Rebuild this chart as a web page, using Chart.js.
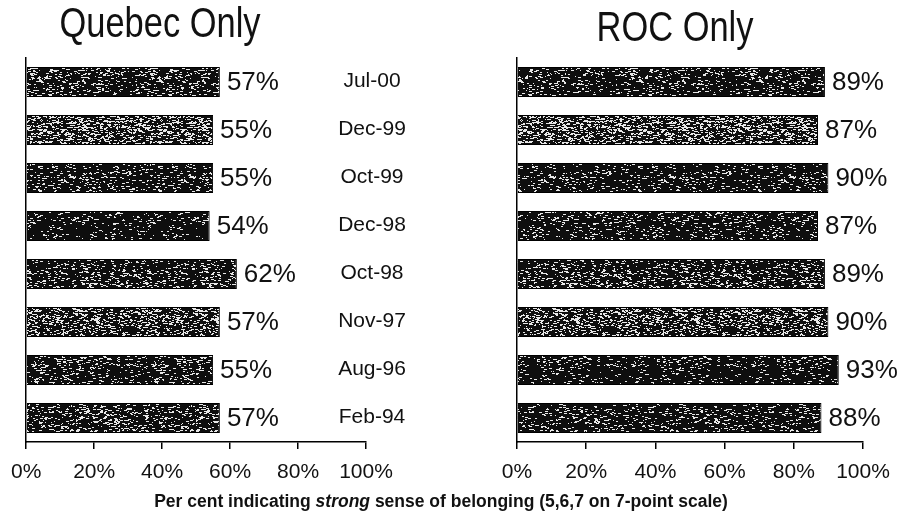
<!DOCTYPE html>
<html>
<head>
<meta charset="utf-8">
<script src="https://cdn.jsdelivr.net/npm/chart.js@4.4.0/dist/chart.umd.min.js"></script>
<style>
    html, body { margin: 0; padding: 0; background: #fff; }
    #wrap { position: relative; width: 903px; height: 516px; }
    #wrap canvas { position: absolute; left: 0; top: 0; }
</style>
</head>
<body>
<div id="wrap">
    <canvas id="quebecChart" width="903" height="516"></canvas>
    <canvas id="rocChart" width="903" height="516"></canvas>
</div>
<script>
const surveyDates = ['Jul-00', 'Dec-99', 'Oct-99', 'Dec-98', 'Oct-98', 'Nov-97', 'Aug-96', 'Feb-94'];
const quebecValues = [57, 55, 55, 54, 62, 57, 55, 57];
const rocValues = [89, 87, 90, 87, 89, 90, 93, 88];
const tickValues = [0, 20, 40, 60, 80, 100];

const FONT = '"Liberation Sans", Arial, sans-serif';

// scanned-looking speckle fill (fixed seed so it is the same every time)
const makeSpeckle = (density, seed) => {
    const c = document.createElement('canvas');
    c.width = 120;
    c.height = 32;
    const g = c.getContext('2d');
    g.fillStyle = '#0e0e0e';
    g.fillRect(0, 0, c.width, c.height);
    let s = seed;
    const next = () => {
        s = (s * 16807) % 2147483647;
        return s / 2147483647;
    };
    g.fillStyle = '#e8e8e8';
    const n = c.width * c.height * density / 2;
    for (let i = 0; i < n; i++) {
        const x = Math.floor(next() * c.width),
            y = Math.floor(next() * c.height),
            w = 1 + Math.floor(next() * 3);
        g.fillRect(x, y, w, 1);
    }
    return g.createPattern(c, 'repeat');
};

const quebecShades = [0.2, 0.4, 0.16, 0.1, 0.2, 0.3, 0.18, 0.24];
const rocShades = [0.16, 0.4, 0.13, 0.14, 0.22, 0.3, 0.12, 0.16];

const valueLabels = {
    id: 'valueLabels',
    afterDatasetsDraw(chart) {
        const {ctx} = chart;
        const meta = chart.getDatasetMeta(0);
        ctx.save();
        ctx.font = '26px ' + FONT;
        ctx.fillStyle = '#111';
        ctx.textBaseline = 'middle';
        ctx.textAlign = 'left';
        meta.data.forEach((bar, i) => {
            ctx.fillText(chart.data.datasets[0].data[i] + '%', bar.x + 7, bar.y + 1);
        });
        ctx.restore();
    }
};

// condensed heading, like the narrow face of the original
const drawTitle = (ctx, text, cx, baseline) => {
    ctx.save();
    ctx.translate(cx, baseline);
    ctx.scale(0.82, 1);
    ctx.font = '42px ' + FONT;
    ctx.textAlign = 'center';
    ctx.textBaseline = 'alphabetic';
    ctx.fillText(text, 0, 0);
    ctx.restore();
};

const drawCaption = (ctx, parts, cx, baseline) => {
    const widths = parts.map(p => {
        ctx.font = p.font;
        return ctx.measureText(p.text).width;
    });
    let x = cx - widths.reduce((a, b) => a + b, 0) / 2;
    parts.forEach((p, i) => {
        ctx.font = p.font;
        ctx.fillText(p.text, x, baseline);
        x += widths[i];
    });
};

const quebecText = {
    id: 'quebecText',
    afterDraw(chart) {
        const {ctx, scales} = chart;
        ctx.save();
        ctx.fillStyle = '#111';
        drawTitle(ctx, 'Quebec Only', 160, 37);

        ctx.font = '21px ' + FONT;
        ctx.textAlign = 'center';
        ctx.textBaseline = 'middle';
        const lx = scales.x.getPixelForValue(100) + 6;
        surveyDates.forEach((d, i) => {
            ctx.fillText(d, lx, scales.y.getPixelForValue(i) - 1);
        });

        ctx.textAlign = 'left';
        ctx.textBaseline = 'alphabetic';
        drawCaption(ctx, [
            {text: 'Per cent indicating ', font: 'bold 17.5px ' + FONT},
            {text: 'strong', font: 'italic bold 17.5px ' + FONT},
            {text: ' sense of belonging (5,6,7 on 7-point scale)', font: 'bold 17.5px ' + FONT}
        ], 441, 507);
        ctx.restore();
    }
};

const rocText = {
    id: 'rocText',
    afterDraw(chart) {
        const {ctx} = chart;
        ctx.save();
        ctx.fillStyle = '#111';
        drawTitle(ctx, 'ROC Only', 675, 41);
        ctx.restore();
    }
};

const makeConfig = (values, shades, padding, plugin) => ({
    type: 'bar',
    data: {
        labels: surveyDates,
        datasets: [{
            data: values,
            backgroundColor: shades.map((d, i) => makeSpeckle(d, 1234 + i * 977)),
            borderColor: '#000',
            borderWidth: 1,
            categoryPercentage: 1,
            barPercentage: 0.625
        }]
    },
    options: {
        indexAxis: 'y',
        responsive: false,
        animation: false,
        layout: {padding: padding},
        plugins: {
            legend: {display: false},
            tooltip: {enabled: false},
            title: {display: false}
        },
        scales: {
            x: {
                min: 0,
                max: 100,
                afterBuildTicks: scale => {
                    scale.ticks = tickValues.map(v => ({value: v}));
                },
                afterFit: scale => {
                    scale.height = 74;
                },
                grid: {
                    display: true,
                    drawOnChartArea: false,
                    drawTicks: true,
                    tickLength: 7,
                    color: '#000',
                    lineWidth: 1.5
                },
                border: {display: true, color: '#000', width: 1.5},
                ticks: {
                    color: '#111',
                    padding: 11,
                    maxRotation: 0,
                    font: {family: FONT, size: 21},
                    callback: v => v + '%'
                }
            },
            y: {
                grid: {display: false},
                border: {display: true, color: '#000', width: 1.5},
                ticks: {display: false},
                afterFit: scale => {
                    scale.width = 0;
                }
            }
        }
    },
    plugins: [valueLabels, plugin]
});

new Chart(document.getElementById('quebecChart'),
    makeConfig(quebecValues, quebecShades, {left: 25, right: 537, top: 58, bottom: 0}, quebecText));

new Chart(document.getElementById('rocChart'),
    makeConfig(rocValues, rocShades, {left: 517, right: 40, top: 58, bottom: 0}, rocText));
</script>
</body>
</html>
